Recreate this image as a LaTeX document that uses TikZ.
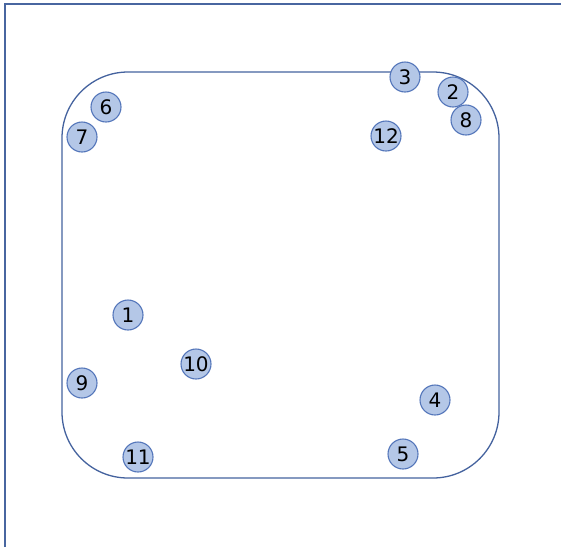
\documentclass[tikz,border=0pt]{standalone}
\usepackage{fontspec}
\setmainfont{DejaVu Sans}
\usepackage{xcolor}
\usepackage{tikz}
\usetikzlibrary{positioning}
\definecolor{PlotFrame}{RGB}{72, 102, 160}
\definecolor{PlotEdge}{RGB}{68, 98, 158}
\definecolor{SpotFill}{RGB}{180, 199, 231}
\definecolor{SpotLine}{RGB}{84, 118, 186}

\tikzset{
  spot/.style={circle, draw=SpotLine, fill=SpotFill, line width=1.1pt,
    minimum size=30pt, inner sep=0pt, text=black,
    font=\fontsize{20}{20}\selectfont}
}

\begin{document}
\begin{tikzpicture}[x=1pt,y=-1pt]
  \path[use as bounding box] (0,0) rectangle (561,547);

  % Outer frame (left and top only)
  \draw[PlotFrame, line width=1.5pt] (5,547) -- (5,4) -- (561,4);

  % Rounded boundary
  \draw[PlotEdge, line width=1.3pt, rounded corners=66pt] (62,72) rectangle (499,478);

  % Numbered points
  \foreach \px/\py/\lbl in {
    128/315/1, 453/92/2, 405/77/3, 435/400/4, 403/454/5, 106/107/6,
    82/137/7, 466/120/8, 82/383/9, 196/364/10, 138/457/11, 386/136/12}{
    \node[spot] (p\lbl) at (\px,\py) {\lbl};
  }
\end{tikzpicture}
\end{document}
